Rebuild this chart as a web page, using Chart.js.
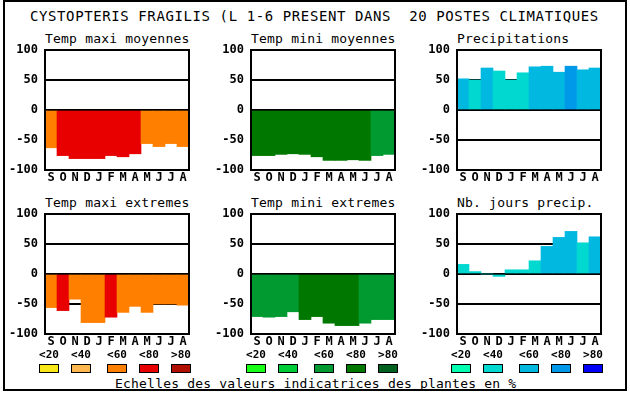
<!DOCTYPE html>
<html>
<head>
<meta charset="utf-8">
<script src="https://cdn.jsdelivr.net/npm/chart.js@4.4.1/dist/chart.umd.min.js"></script>
<style>
  body { margin: 0; background: #fff; width: 630px; height: 394px; overflow: hidden; position: relative; font-family: "DejaVu Sans Mono", monospace; color: #000; }
  #frame { position: absolute; left: 3px; top: 0; width: 624px; height: 391px; border: 2px solid #000; box-sizing: border-box; }
  .txt { position: absolute; white-space: pre; }
  #title { left: 30px; top: 9px; font-size: 14px; line-height: 14px; letter-spacing: 0.6px; }
  .sub { font-size: 13px; line-height: 13px; letter-spacing: 0.2px; }
  .cls { font-size: 11px; line-height: 11px; font-weight: bold; width: 20px; text-align: center; }
  .box { position: absolute; width: 20px; height: 9px; border: 1px solid #000; box-sizing: border-box; }
  canvas { position: absolute; }
</style>
</head>
<body>
<div id="frame"></div>
<div id="title" class="txt">CYSTOPTERIS FRAGILIS (L 1-6 PRESENT DANS  20 POSTES CLIMATIQUES</div>
<div class="txt sub" style="left:115px;top:377px">Echelles des valeurs indicatrices des plantes en %</div>
<script>
// months (septembre -> aout)
const months = ['S', 'O', 'N', 'D', 'J', 'F', 'M', 'A', 'M', 'J', 'J', 'A'];
const yTicks = [-100, -50, 0, 50, 100];
const classLabels = ['<20', '<40', '<60', '<80', '>80'];

// values in % and indicator class per month (0..4)
const tmaxMoy = [-63, -76, -81, -81, -81, -76, -78, -73, -56, -61, -56, -61];
const tmaxMoyCls = [2, 3, 3, 3, 3, 3, 3, 3, 2, 2, 2, 2];
const tminMoy = [-76, -76, -74, -73, -74, -78, -84, -84, -83, -84, -76, -74];
const tminMoyCls = [3, 3, 3, 3, 3, 3, 3, 3, 3, 3, 2, 2];
const precip = [52, 50, 70, 65, 50, 62, 72, 73, 63, 73, 67, 70];
const precipCls = [2, 1, 2, 1, 1, 1, 2, 2, 2, 3, 2, 2];
const tmaxExt = [-56, -61, -42, -81, -81, -72, -64, -54, -64, -50, -50, -52];
const tmaxExtCls = [2, 3, 2, 2, 2, 3, 2, 2, 2, 2, 2, 2];
const tminExt = [-71, -72, -71, -63, -76, -71, -82, -86, -86, -82, -76, -76];
const tminExtCls = [2, 2, 2, 2, 3, 3, 3, 3, 3, 2, 2, 2];
const joursPrecip = [16, 4, 0, -4, 7, 7, 22, 46, 61, 71, 52, 62];
const joursPrecipCls = [1, 1, 1, 1, 1, 1, 1, 2, 2, 2, 1, 2];

const warmColors = ['#f8e818', '#ffb850', '#ff8000', '#e80000', '#b01000'];
const coldColors = ['#18ff18', '#00cc38', '#009a30', '#007800', '#006020'];
const waterColors = ['#00ffb0', '#00d8d0', '#00b8e0', '#0098e8', '#0000f8'];

const panels = [
  { title: 'Temp maxi moyennes', data: tmaxMoy, cls: tmaxMoyCls, pal: warmColors, x: 45, y: 50 },
  { title: 'Temp mini moyennes', data: tminMoy, cls: tminMoyCls, pal: coldColors, x: 251, y: 50 },
  { title: 'Precipitations', data: precip, cls: precipCls, pal: waterColors, x: 457, y: 50 },
  { title: 'Temp maxi extremes', data: tmaxExt, cls: tmaxExtCls, pal: warmColors, x: 45, y: 214 },
  { title: 'Temp mini extremes', data: tminExt, cls: tminExtCls, pal: coldColors, x: 251, y: 214 },
  { title: 'Nb. jours precip.', data: joursPrecip, cls: joursPrecipCls, pal: waterColors, x: 457, y: 214 }
];

const boldFont = { family: '"DejaVu Sans Mono", monospace', size: 12, weight: 'bold' };

// box around the plot area
const framePlugin = {
  id: 'frame',
  afterDraw(chart) {
    const a = chart.chartArea, ctx = chart.ctx;
    ctx.save();
    ctx.strokeStyle = '#000';
    ctx.lineWidth = 2;
    ctx.strokeRect(a.left, a.top, a.right - a.left, a.bottom - a.top);
    ctx.restore();
  }
};

panels.forEach(function (p) {
  const t = document.createElement('div');
  t.className = 'txt sub';
  t.style.left = p.x + 'px';
  t.style.top = (p.y - 18) + 'px';
  t.textContent = p.title;
  document.body.appendChild(t);

  const cv = document.createElement('canvas');
  cv.width = 199;
  cv.height = 150;
  cv.style.left = (p.x - 45) + 'px';
  cv.style.top = (p.y - 10) + 'px';
  document.body.appendChild(cv);

  new Chart(cv.getContext('2d'), {
    type: 'bar',
    data: {
      labels: months,
      datasets: [{
        data: p.data,
        backgroundColor: p.cls.map(c => p.pal[c]),
        borderWidth: 0,
        categoryPercentage: 1,
        barPercentage: 1
      }]
    },
    options: {
      responsive: false,
      animation: false,
      events: [],
      layout: { padding: { top: 10, right: 10, bottom: 2, left: 0 } },
      plugins: { legend: { display: false }, tooltip: { enabled: false } },
      scales: {
        x: {
          grid: { display: false, drawTicks: false },
          border: { display: false },
          ticks: { font: boldFont, color: '#000', padding: 1, maxRotation: 0, autoSkip: false },
          afterFit(s) { s.height = 18; s.paddingLeft = 0; s.paddingRight = 0; }
        },
        y: {
          min: -100, max: 100, z: 1,
          afterBuildTicks(s) { s.ticks = yTicks.map(v => ({ value: v })); },
          ticks: { font: boldFont, color: '#000', padding: 7 },
          grid: { color: '#000', lineWidth: 2, drawTicks: false },
          border: { display: false },
          afterFit(s) { s.width = 45; s.paddingTop = 0; s.paddingBottom = 0; }
        }
      }
    },
    plugins: [framePlugin]
  });
});

// legend: classes of indicator values under each column
const legendGroups = [
  { pal: warmColors, xs: [39, 71, 107, 139, 171] },
  { pal: coldColors, xs: [246, 278, 314, 346, 378] },
  { pal: waterColors, xs: [451, 483, 519, 551, 583] }
];
legendGroups.forEach(function (g) {
  g.xs.forEach(function (x, i) {
    const l = document.createElement('div');
    l.className = 'txt cls';
    l.style.left = x + 'px';
    l.style.top = '349px';
    l.textContent = classLabels[i];
    document.body.appendChild(l);
    const b = document.createElement('div');
    b.className = 'box';
    b.style.left = x + 'px';
    b.style.top = '364px';
    b.style.background = g.pal[i];
    document.body.appendChild(b);
  });
});
</script>
</body>
</html>
